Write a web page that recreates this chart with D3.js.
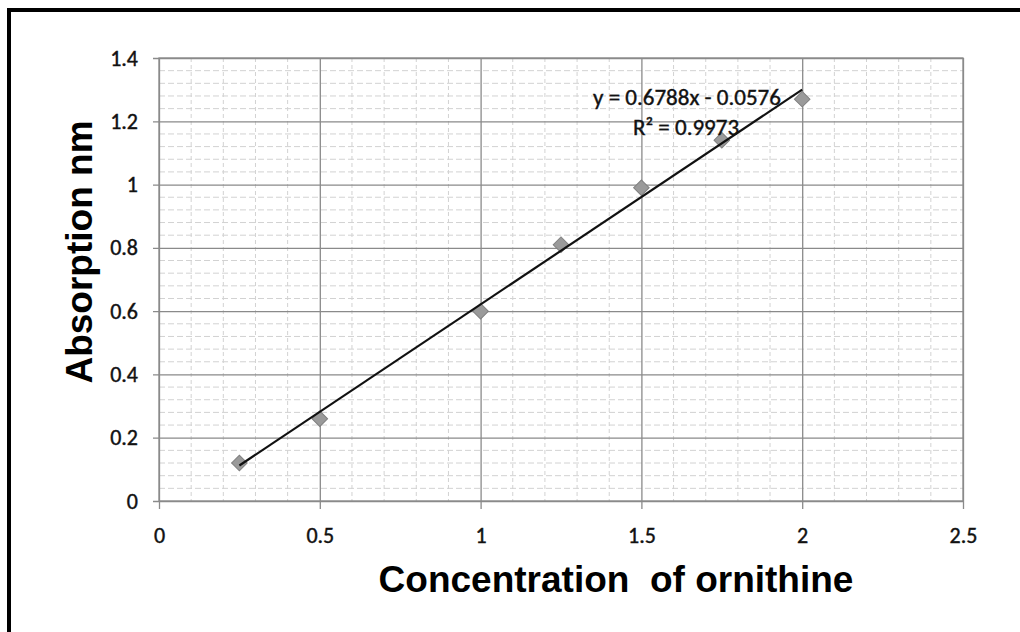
<!DOCTYPE html>
<html>
<head>
<meta charset="utf-8">
<script src="https://cdn.jsdelivr.net/npm/d3@7"></script>
<style>
  body { margin: 0; background: #fff; }
  svg { display: block; }
  .tick-label { font-family: Carlito, "DejaVu Sans Condensed", sans-serif; font-size: 22px; fill: #111; stroke: #111; stroke-width: 0.4px; }
  .title { font-family: "Liberation Sans", Arial, sans-serif; font-weight: bold; font-size: 37px; fill: #000; }
  .eq { font-family: Carlito, "DejaVu Sans Condensed", sans-serif; font-size: 23px; fill: #111; stroke: #111; stroke-width: 0.4px; }
</style>
</head>
<body>
<svg width="1020" height="632"></svg>
<script>
// concentration (x) and absorption (y)
const concentration = [0.25, 0.5, 1, 1.25, 1.5, 1.75, 2];
const absorption = [0.12, 0.26, 0.60, 0.81, 0.99, 1.14, 1.27];

const xTicks = [0, 0.5, 1, 1.5, 2, 2.5];
const yTicks = [0, 0.2, 0.4, 0.6, 0.8, 1, 1.2, 1.4];

const slope = 0.6788;
const intercept = -0.0576;
const equationText = "y = 0.6788x - 0.0576";
const r2Text = "R² = 0.9973";

const svg = d3.select("svg");

// outer frame
svg.append("rect")
  .attr("x", 9).attr("y", 10)
  .attr("width", 1030).attr("height", 640)
  .attr("fill", "none")
  .attr("stroke", "#000")
  .attr("stroke-width", 4);

const x = d3.scaleLinear().domain([0, 2.5]).range([159, 963]);
const y = d3.scaleLinear().domain([0, 1.4]).range([501, 58]);

const grid = svg.append("g");

// minor grid, dashed
grid.selectAll("line.minor-x")
  .data(d3.range(1, 25).filter(i => i % 5 !== 0).map(i => i / 10))
  .join("line")
  .attr("x1", d => x(d)).attr("x2", d => x(d))
  .attr("y1", y(1.4)).attr("y2", y(0))
  .attr("stroke", "#d2d2d2").attr("stroke-width", 1)
  .attr("stroke-dasharray", "4,3");

grid.selectAll("line.minor-y")
  .data(d3.range(1, 35).filter(i => i % 5 !== 0).map(i => i * 0.04))
  .join("line")
  .attr("x1", x(0)).attr("x2", x(2.5))
  .attr("y1", d => y(d)).attr("y2", d => y(d))
  .attr("stroke", "#d2d2d2").attr("stroke-width", 1)
  .attr("stroke-dasharray", "6,3");

// major grid + axis ticks
const xAxis = d3.axisBottom(x).tickValues(xTicks).tickSize(8).tickFormat(d3.format("~g"));
const yAxis = d3.axisLeft(y).tickValues(yTicks).tickSize(6).tickFormat(d3.format("~g"));

svg.append("g")
  .attr("transform", `translate(0,${y(0)})`)
  .call(xAxis)
  .call(g => g.select(".domain").remove())
  .call(g => g.selectAll(".tick line").attr("stroke", "#8a8a8a").attr("stroke-width", 1.3)
    .attr("y1", -(y(0) - y(1.4))))
  .call(g => g.selectAll(".tick text").attr("class", "tick-label")
    .attr("y", 26).attr("dy", "0.71em").attr("font-family", null).attr("font-size", null));

svg.append("g")
  .attr("transform", `translate(${x(0)},0)`)
  .call(yAxis)
  .call(g => g.select(".domain").remove())
  .call(g => g.selectAll(".tick line").attr("stroke", "#8a8a8a").attr("stroke-width", 1.3)
    .attr("x2", x(2.5) - x(0)).attr("x1", -6))
  .call(g => g.selectAll(".tick text").attr("class", "tick-label")
    .attr("x", -21).attr("font-family", null).attr("font-size", null));

// frame of the plot area
svg.append("rect")
  .attr("x", x(0)).attr("y", y(1.4))
  .attr("width", x(2.5) - x(0)).attr("height", y(0) - y(1.4))
  .attr("fill", "none").attr("stroke", "#8a8a8a").attr("stroke-width", 1.3);

// markers
svg.append("g")
  .selectAll("path")
  .data(concentration.map((c, i) => [c, absorption[i]]))
  .join("path")
  .attr("transform", d => `translate(${x(d[0])},${y(d[1])}) rotate(45)`)
  .attr("d", "M-5.5,-5.5H5.5V5.5H-5.5Z")
  .attr("fill", "#9a9a9a")
  .attr("stroke", "#808080")
  .attr("stroke-width", 1);

// linear trendline
const xExt = d3.extent(concentration);
svg.append("line")
  .attr("x1", x(xExt[0])).attr("y1", y(slope * xExt[0] + intercept))
  .attr("x2", x(xExt[1])).attr("y2", y(slope * xExt[1] + intercept))
  .attr("stroke", "#111").attr("stroke-width", 2.2);

// equation
svg.append("text").attr("class", "eq")
  .attr("x", 687).attr("y", 105).attr("text-anchor", "middle")
  .text(equationText);
svg.append("text").attr("class", "eq")
  .attr("x", 686).attr("y", 135).attr("text-anchor", "middle")
  .text(r2Text);

// axis titles
svg.append("text").attr("class", "title")
  .attr("x", 616).attr("y", 592).attr("text-anchor", "middle")
  .attr("xml:space", "preserve")
  .style("white-space", "pre")
  .text("Concentration  of ornithine");

svg.append("text").attr("class", "title")
  .attr("transform", "translate(92,252) rotate(-90)")
  .attr("text-anchor", "middle")
  .text("Absorption nm");
</script>
</body>
</html>
